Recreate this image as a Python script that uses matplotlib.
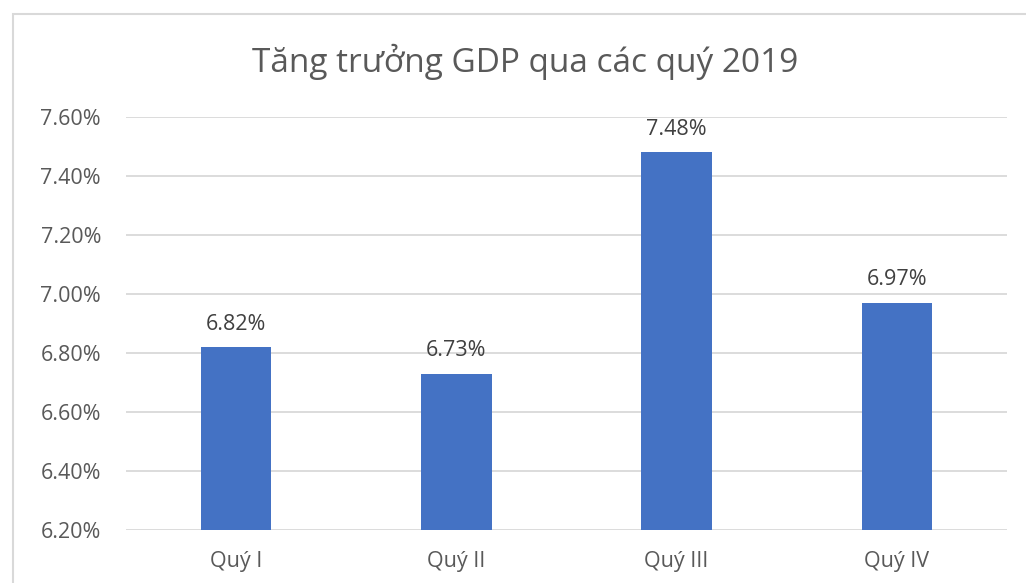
import matplotlib
matplotlib.use("Agg")
import matplotlib.pyplot as plt
from matplotlib.patches import Rectangle

categories = ["Quý I", "Quý II", "Quý III", "Quý IV"]
growth = [6.82, 6.73, 7.48, 6.97]
yticks = [6.20, 6.40, 6.60, 6.80, 7.00, 7.20, 7.40, 7.60]

plt.rcParams["font.family"] = ["Open Sans", "DejaVu Sans"]

fig = plt.figure(figsize=(10.26, 5.83), dpi=100)
ax = fig.add_axes([126 / 1026, 1 - 530 / 583, 881 / 1026, 413 / 583])

# chart border (Excel-style frame)
fig.patches.append(Rectangle((13 / 1026, -0.1), 1.2, 1 - 14 / 583 + 0.1,
                             transform=fig.transFigure, fill=False,
                             ec="#d9d9d9", lw=1.5))

x = range(len(categories))
bars = ax.bar(x, growth, width=0.32, color="#4472c4", zorder=2)
for xi, v in zip(x, growth):
    ax.annotate(f"{v:.2f}%", xy=(xi, v), xytext=(0, 9),
                textcoords="offset points", ha="center", va="bottom",
                fontsize=15.5, color="#404040")

ax.set_xlim(-0.5, 3.5)
ax.set_ylim(6.2, 7.6)
ax.set_yticks(yticks)
ax.set_yticklabels([f"{v:.2f}%" for v in yticks], fontsize=15.5, color="#595959")
ax.set_xticks(list(x))
ax.set_xticklabels(categories, fontsize=15.5, color="#595959")
ax.tick_params(axis="y", length=0, pad=18)
ax.tick_params(axis="x", length=0, pad=15)
ax.grid(axis="y", color="#d9d9d9", lw=1.3, zorder=0)
for s in ax.spines.values():
    s.set_visible(False)

fig.text(525 / 1026, 1 - 62 / 583, "Tăng trưởng GDP qua các quý 2019",
         ha="center", va="center", fontsize=24, color="#595959")

plt.savefig("out.png", dpi=100)
